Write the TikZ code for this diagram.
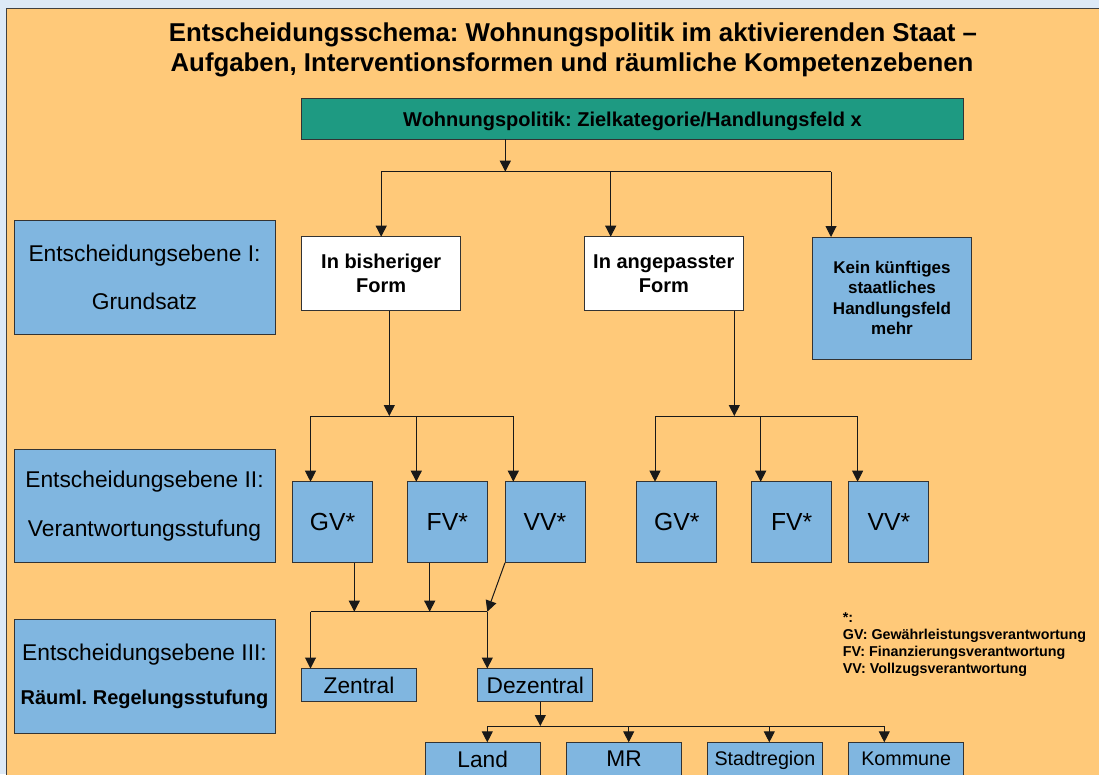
\documentclass[tikz,border=0pt]{standalone}
\usepackage{fontspec}
\setmainfont{Liberation Sans}
\usetikzlibrary{arrows.meta}
\definecolor{bgblue}{RGB}{221,233,246}
\definecolor{panelorange}{RGB}{255,201,121}
\definecolor{boxblue}{RGB}{128,182,224}
\definecolor{headgreen}{RGB}{30,154,130}
\frenchspacing

\begin{document}
\begin{tikzpicture}[x=1pt,y=-1pt,
    conn/.style={line width=1pt, draw=black!90},
    arr/.style={conn, -{Triangle[length=11pt,width=11pt]}},
    box/.style={draw=black!80, line width=0.9pt, inner sep=0pt, outer sep=0pt, align=center},
    bluebox/.style={box, fill=boxblue},
    lvlbox/.style={bluebox, minimum width=261pt, minimum height=113.6pt},
    formbox/.style={box, fill=white, minimum width=159pt, minimum height=74pt, font=\fontsize{20}{24}\selectfont\bfseries},
    respbox/.style={bluebox, minimum width=80pt, minimum height=81pt, text depth=0pt, font=\fontsize{24.7}{30}\selectfont},
    placebox/.style={bluebox, minimum width=115pt, minimum height=33pt, text depth=0pt, font=\fontsize{22.7}{27}\selectfont},
    titletext/.style={font=\fontsize{25.8}{30}\selectfont\bfseries, inner sep=0pt}]
    \useasboundingbox (0,0) rectangle (1099,774);
    \fill[bgblue] (0,0) rectangle (1099,774); %background
    \filldraw[fill=panelorange, draw=black!75, line width=1pt] (6,8.5) rectangle (1130,800); %panel

    % title
    \node[titletext, anchor=base] (title1) at (573,41) {Entscheidungsschema: Wohnungspolitik im aktivierenden Staat –};
    \node[titletext, anchor=base] (title2) at (572,71) {Aufgaben, Interventionsformen und räumliche Kompetenzebenen};

    \node[box, fill=headgreen, minimum width=661.6pt, minimum height=41pt, text depth=0pt, font=\fontsize{20}{24}\selectfont\bfseries] (feld) at (632.5,118.8) {Wohnungspolitik: Zielkategorie/Handlungsfeld x}; %feld

    % Ebene I
    \node[lvlbox, font=\fontsize{22.8}{47.6}\selectfont] (ebene1) at (144.5,277.5) {Entscheidungsebene I:\\Grundsatz};
    \node[formbox] (bisher) at (381.2,273.7) {In bisheriger\\Form};
    \node[formbox] (angepasst) at (663.8,273.7) {In angepasster\\Form};
    \node[bluebox, minimum width=158.6pt, minimum height=122pt, font=\fontsize{17}{20.3}\selectfont\bfseries] (kein) at (892,298) {Kein künftiges\\staatliches\\Handlungsfeld\\mehr};

    % Ebene II
    \node[lvlbox, font=\fontsize{22.8}{48.3}\selectfont] (ebene2) at (144.5,506) {Entscheidungsebene II:\\Verantwortungsstufung};
    \node[respbox] (gv1) at (332.5,522.2) {GV*};
    \node[respbox] (fv1) at (447.3,522.2) {FV*};
    \node[respbox] (vv1) at (545,522.2) {VV*};
    \node[respbox] (gv2) at (676.7,522.2) {GV*};
    \node[respbox] (fv2) at (791.7,522.2) {FV*};
    \node[respbox] (vv2) at (888.9,522.2) {VV*};

    % Ebene III
    \node[lvlbox, font=\fontsize{22.8}{44}\selectfont] (ebene3) at (144.5,676.7) {Entscheidungsebene III:\\{\fontsize{20}{44}\selectfont\bfseries Räuml. Regelungsstufung}};
    \node[placebox] (zentral) at (359,685) {Zentral};
    \node[placebox] (dezentral) at (535.3,685) {Dezentral};
    \node[placebox] (land) at (482.7,758.8) {Land};
    \node[placebox] (mr) at (624,758.8) {MR};
    \node[placebox, font=\fontsize{19.7}{24}\selectfont] (stadt) at (764.9,758.8) {Stadtregion};
    \node[placebox, font=\fontsize{19.7}{24}\selectfont] (kommune) at (906.2,758.8) {Kommune};

    \node[anchor=west, align=left, inner sep=0pt, font=\fontsize{14.3}{17}\selectfont\bfseries] (legende) at (842.7,644.7) {*:\\GV: Gewährleistungsverantwortung\\FV: Finanzierungsverantwortung\\VV: Vollzugsverantwortung}; %legende

    % connectors top
    \coordinate (hub0) at (505.3,171.7);
    \coordinate (angIn) at ([xshift=26.4pt]angepasst.north west);
    \coordinate (keinIn) at ([xshift=18.3pt]kein.north west);
    \draw[arr] (feld.south -| hub0) -- (hub0);
    \draw[conn] (bisher.north |- hub0) -- (keinIn |- hub0);
    \foreach \t in {bisher.north,angIn,keinIn}
        \draw[arr] (\t |- hub0) -- (\t);

    % connectors bisheriger Form
    \coordinate (bisOut) at ([xshift=8.1pt]bisher.south);
    \coordinate (hub1) at (389.3,416);
    \coordinate (gv1In) at ([xshift=18pt]gv1.north west);
    \coordinate (fv1In) at ([xshift=9pt]fv1.north west);
    \coordinate (vv1In) at ([xshift=8.3pt]vv1.north west);
    \draw[arr] (bisOut) -- (hub1);
    \draw[conn] (gv1In |- hub1) -- (vv1In |- hub1);
    \foreach \t in {gv1In,fv1In,vv1In}
        \draw[arr] (\t |- hub1) -- (\t);

    % connectors angepasster Form
    \coordinate (angOut) at ([xshift=-9pt]angepasst.south east);
    \coordinate (hub2) at (angOut |- hub1);
    \coordinate (gv2In) at ([xshift=18.3pt]gv2.north west);
    \coordinate (fv2In) at ([xshift=9pt]fv2.north west);
    \coordinate (vv2In) at ([xshift=8.7pt]vv2.north west);
    \draw[arr] (angOut) -- (hub2);
    \draw[conn] (gv2In |- hub2) -- (vv2In |- hub2);
    \foreach \t in {gv2In,fv2In,vv2In}
        \draw[arr] (\t |- hub2) -- (\t);

    % connectors Regelungsstufung
    \coordinate (hub3) at (487.3,611.7);
    \coordinate (gv1Out) at ([xshift=21.8pt]gv1.south);
    \coordinate (fv1Out) at ([xshift=22.4pt]fv1.south west);
    \coordinate (zenIn) at ([xshift=9pt]zentral.north west);
    \draw[arr] (gv1Out) -- (gv1Out |- hub3);
    \draw[arr] (fv1Out) -- (fv1Out |- hub3);
    \draw[arr] (vv1.south west) -- (hub3);
    \draw[conn] (zenIn |- hub3) -- (hub3);
    \draw[arr] (zenIn |- hub3) -- (zenIn);
    \draw[arr] (hub3) -- (hub3 |- dezentral.north);

    % connectors Dezentral
    \coordinate (dezOut) at ([xshift=5pt]dezentral.south);
    \coordinate (hub4) at (540.3,726);
    \coordinate (landIn) at ([xshift=62.1pt]land.north west);
    \coordinate (mrIn) at ([xshift=62.2pt]mr.north west);
    \coordinate (stadtIn) at ([xshift=61.9pt]stadt.north west);
    \coordinate (komIn) at ([xshift=35.6pt]kommune.north west);
    \draw[arr] (dezOut) -- (hub4);
    \draw[conn] (landIn |- hub4) -- (komIn |- hub4);
    \foreach \t in {landIn,mrIn,stadtIn,komIn}
        \draw[arr] (\t |- hub4) -- (\t);
\end{tikzpicture}
\end{document}
